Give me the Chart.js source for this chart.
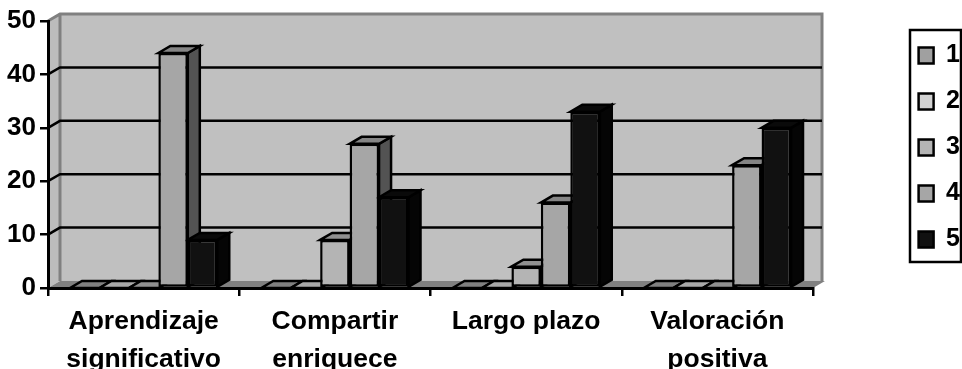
<!DOCTYPE html>
<html>
<head>
<meta charset="utf-8">
<script src="https://cdn.jsdelivr.net/npm/chart.js@4"></script>
<style>
  html, body { margin: 0; padding: 0; background: #fff; }
  #wrap { width: 962px; height: 369px; position: relative; }
</style>
</head>
<body>
<div id="wrap"><canvas id="mycanvas"></canvas></div>
<script>
var categorias = [["Aprendizaje", "significativo"], ["Compartir", "enriquece"], "Largo plazo", ["Valoración", "positiva"]];
var nombres = ["1", "2", "3", "4", "5"];
var serie1 = [0, 0, 0, 0];
var serie2 = [0, 0, 0, 0];
var serie3 = [0, 9, 4, 0];
var serie4 = [44, 27, 16, 23];
var serie5 = [9, 17, 33, 30];
var valores = [serie1, serie2, serie3, serie4, serie5];

var frente = ["#a0a0a0", "#d2d2d2", "#b4b4b4", "#a6a6a6", "#111111"];
var arriba = ["#808080", "#a8a8a8", "#909090", "#858585", "#0a0a0a"];
var lado = ["#505050", "#696969", "#5a5a5a", "#535353", "#050505"];

// depth of the fake 3d box
var DX = 12, DY = 7;

var fondo3d = {
  id: "fondo3d",
  beforeLayout: function(chart) {
    // legend sits far from the plot, so make room for it
    if (chart.legend.fitOriginal) return;
    chart.legend.fitOriginal = chart.legend.fit;
    chart.legend.fit = function() {
      this.fitOriginal();
      this.extra = 149 - this.width;
      this.width = 149;
    };
  },
  afterLayout: function(chart) {
    var l = chart.legend;
    l.left += l.extra + 8;
    l.top = 22;
  },
  beforeDraw: function(chart) {
    var c = chart.ctx, a = chart.chartArea, y = chart.scales.y;
    c.save();
    c.fillStyle = "#c0c0c0";
    c.fillRect(a.left + DX, a.top - DY, a.right - a.left - 3, a.bottom - a.top);
    // left wall
    c.fillStyle = "#bcbcbc";
    c.beginPath();
    c.moveTo(a.left, a.top);
    c.lineTo(a.left + DX, a.top - DY);
    c.lineTo(a.left + DX, a.bottom - DY);
    c.lineTo(a.left, a.bottom);
    c.closePath();
    c.fill();
    // floor
    c.fillStyle = "#808080";
    c.beginPath();
    c.moveTo(a.left, a.bottom);
    c.lineTo(a.right, a.bottom);
    c.lineTo(a.right + DX, a.bottom - DY);
    c.lineTo(a.left + DX, a.bottom - DY);
    c.closePath();
    c.fill();
    // wall edges
    c.strokeStyle = "#808080";
    c.lineWidth = 3;
    c.beginPath();
    c.moveTo(a.left, a.top);
    c.lineTo(a.left + DX, a.top - DY);
    c.lineTo(a.right + DX - 3, a.top - DY);
    c.lineTo(a.right + DX - 3, a.bottom - DY);
    c.moveTo(a.left + DX, a.top - DY);
    c.lineTo(a.left + DX, a.bottom - DY);
    c.stroke();
    // gridlines on the back wall
    c.strokeStyle = "#000";
    c.lineWidth = 2.5;
    y.ticks.forEach(function(t) {
      if (t.value === 0 || t.value === 50) return;
      var py = y.getPixelForValue(t.value);
      c.beginPath();
      c.moveTo(a.left, py);
      c.lineTo(a.left + DX, py - DY);
      c.lineTo(a.right + DX - 3, py - DY);
      c.stroke();
    });
    // legend frame
    c.lineWidth = 2.5;
    c.strokeRect(910, 30, 51, 232);
    c.restore();
  },
  beforeDatasetsDraw: function(chart) {
    var c = chart.ctx;
    c.save();
    c.strokeStyle = "#000";
    c.lineWidth = 2.5;
    c.lineJoin = "miter";
    for (var i = 0; i < categorias.length; i++) {
      for (var s = 0; s < valores.length; s++) {
        var b = chart.getDatasetMeta(s).data[i];
        var x0 = b.x - b.width / 2, x1 = b.x + b.width / 2;
        // side face
        c.fillStyle = lado[s];
        c.beginPath();
        c.moveTo(x1, b.y);
        c.lineTo(x1 + DX, b.y - DY);
        c.lineTo(x1 + DX, b.base - DY);
        c.lineTo(x1, b.base);
        c.closePath();
        c.fill();
        c.stroke();
        // top face
        c.fillStyle = arriba[s];
        c.beginPath();
        c.moveTo(x0, b.y);
        c.lineTo(x0 + DX, b.y - DY);
        c.lineTo(x1 + DX, b.y - DY);
        c.lineTo(x1, b.y);
        c.closePath();
        c.fill();
        c.stroke();
      }
    }
    c.restore();
  }
};

var datasets = [];
for (var i = 0; i < nombres.length; i++) {
  datasets.push({
    label: nombres[i],
    data: valores[i],
    backgroundColor: frente[i],
    borderColor: "#000",
    borderWidth: 2.5,
    borderSkipped: false
  });
}

var familia = "'Liberation Sans', Arial, sans-serif";

new Chart(document.getElementById("mycanvas"), {
  type: "bar",
  data: { labels: categorias, datasets: datasets },
  plugins: [fondo3d],
  options: {
    responsive: true,
    maintainAspectRatio: false,
    animation: false,
    layout: { padding: { top: 21, right: 0, bottom: 0, left: 0 } },
    datasets: { bar: { categoryPercentage: 0.77, barPercentage: 1 } },
    plugins: {
      tooltip: { enabled: false },
      legend: {
        position: "right",
        align: "start",
        labels: {
          color: "#000",
          font: { family: familia, size: 25, weight: "bold" },
          boxWidth: 15,
          boxHeight: 16,
          padding: 21
        }
      }
    },
    scales: {
      x: {
        afterFit: function(scale) { scale.height = 81; },
        grid: { drawOnChartArea: false, color: "#000", lineWidth: 2.5, tickLength: 8 },
        border: { color: "#000", width: 3 },
        ticks: {
          color: "#000",
          font: { family: familia, size: 26.5, weight: "bold", lineHeight: 1.42 },
          maxRotation: 0,
          autoSkip: false,
          padding: 7
        }
      },
      y: {
        min: 0,
        max: 50,
        afterFit: function(scale) { scale.width = 48; },
        grid: { drawOnChartArea: false, color: "#000", lineWidth: 2.5, tickLength: 8 },
        border: { color: "#000", width: 3 },
        ticks: { color: "#000", font: { family: familia, size: 26, weight: "bold" }, stepSize: 10, padding: 4 }
      }
    }
  }
});
</script>
</body>
</html>
